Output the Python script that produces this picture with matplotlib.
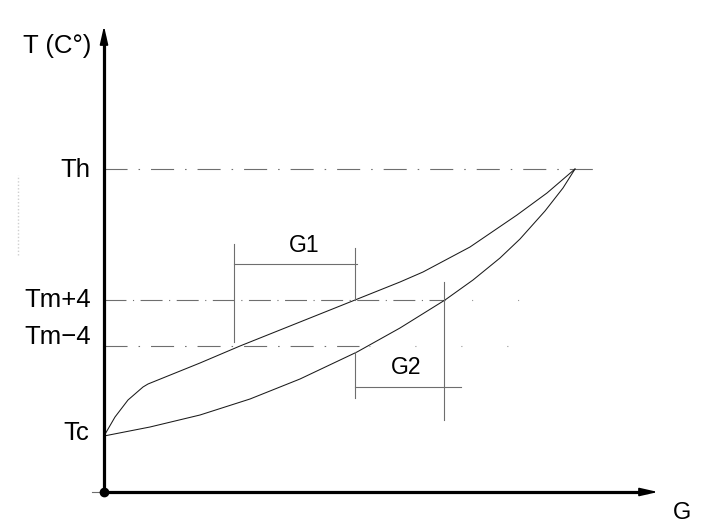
import matplotlib
matplotlib.use("Agg")
import matplotlib.pyplot as plt

plt.rcParams['font.family'] = ['Liberation Sans', 'DejaVu Sans']
plt.rcParams['lines.scale_dashes'] = False

# ---- data (G along x, T along y; schematic units) ----
T_levels = {"Tc": 56, "Tm−4": 146, "Tm+4": 192, "Th": 323}

upper_G = [0, 11, 24, 39, 44, 96, 136, 196, 251, 296, 319, 366, 413, 443, 471]
upper_T = [56, 75, 92, 105, 108, 129, 146, 170, 192, 210, 220, 245, 277, 299, 323]

lower_G = [0, 46, 96, 146, 196, 253, 296, 341, 369, 396, 416, 441, 459, 471]
lower_T = [56, 65, 77, 93, 113, 140, 164, 192, 212, 234, 253, 281, 304, 323]

# G1 bracket (upper curve between Tm-4 and Tm+4)
G1_left, G1_right = 130, 251
G1_left_span = (150, 248)
G1_right_span = (192, 244)
G1_bar_T = 228
# G2 bracket (lower curve)
G2_left, G2_right = 251, 340
G2_left_span = (94, 140)
G2_right_span = (72, 210)
G2_bar_T = 105
G2_bar_end = 357

x_tip, y_tip = 554, 466
Th_end = 499
Tm_end = 441

fig = plt.figure(figsize=(7.04, 5.32), dpi=100)
ax = fig.add_axes([0, 0, 1, 1])
ax.set_xlim(-104, 600)
ax.set_ylim(-40, 492)
ax.axis('off')

gray = '#6e6e6e'
dashdot45 = (0, (16.6, 7.9, 1.1, 7.9))
dashdot35 = (0, (15.8, 4.7, 0.8, 4.7))

# reference lines
ax.plot([0, Th_end], [T_levels["Th"]] * 2, color=gray, lw=0.8, ls=dashdot45)
ax.plot([0, 341], [T_levels["Tm+4"]] * 2, color=gray, lw=0.8, ls=dashdot35)
ax.plot([341, Tm_end], [T_levels["Tm+4"]] * 2, color='#9a9a9a', lw=0.8, ls=(14, (0.8, 32.3)))
ax.plot([0, 255], [T_levels["Tm−4"]] * 2, color=gray, lw=0.8, ls=dashdot45)
ax.plot([255, Tm_end], [T_levels["Tm−4"]] * 2, color='#9a9a9a', lw=0.8, ls=(26, (0.8, 32.3)))

# curves
ax.plot(upper_G, upper_T, color='#1a1a1a', lw=0.75)
ax.plot(lower_G, lower_T, color='#1a1a1a', lw=0.75)

# G1 bracket
ax.plot([G1_left, G1_left], G1_left_span, color=gray, lw=0.8)
ax.plot([G1_right, G1_right], G1_right_span, color=gray, lw=0.8)
ax.plot([G1_left, G1_right + 2], [G1_bar_T] * 2, color=gray, lw=0.8)
# G2 bracket
ax.plot([G2_left, G2_left], G2_left_span, color=gray, lw=0.8)
ax.plot([G2_right, G2_right], G2_right_span, color=gray, lw=0.8)
ax.plot([G2_left, G2_bar_end], [G2_bar_T] * 2, color=gray, lw=0.8)

# axes
ax.plot([0, 0], [0, y_tip - 10], color='black', lw=2.3, solid_capstyle='butt')
ax.plot([0, x_tip - 10], [0, 0], color='black', lw=2.3, solid_capstyle='butt')
ax.annotate('', xy=(0, y_tip), xytext=(0, y_tip - 20),
            arrowprops=dict(arrowstyle='-|>,head_length=1.1,head_width=0.25',
                            color='black', lw=1.2, shrinkA=0, shrinkB=0, mutation_scale=10))
ax.annotate('', xy=(x_tip, 0), xytext=(x_tip - 20, 0),
            arrowprops=dict(arrowstyle='-|>,head_length=1.1,head_width=0.25',
                            color='black', lw=1.2, shrinkA=0, shrinkB=0, mutation_scale=10))
ax.plot([-12, 0], [0, 0], color=gray, lw=0.8)
ax.plot([0], [0], 'o', color='black', ms=6)

# faint artefact strip on the left
ax.plot([-86, -86], [237, 317], color='#cfcfcf', lw=1.0, ls=(0, (1, 1.5)))

# texts
fs = 18.5
ax.text(-81, 439, "T (C°)", fontsize=fs, ha='left', va='baseline')
ax.text(-14, 315, "Th", fontsize=fs, ha='right', va='baseline')
ax.text(-13, 185, "Tm+4", fontsize=fs, ha='right', va='baseline')
ax.text(-13, 148, "Tm−4", fontsize=fs, ha='right', va='baseline')
ax.text(-15, 52, "Tc", fontsize=fs, ha='right', va='baseline')
ax.text(200, 240, "G1", fontsize=16.5, ha='center', va='baseline')
ax.text(302, 118, "G2", fontsize=16.5, ha='center', va='baseline')
ax.text(569, -27, "G", fontsize=17, ha='left', va='baseline')

fig.savefig('out.png', dpi=100)
